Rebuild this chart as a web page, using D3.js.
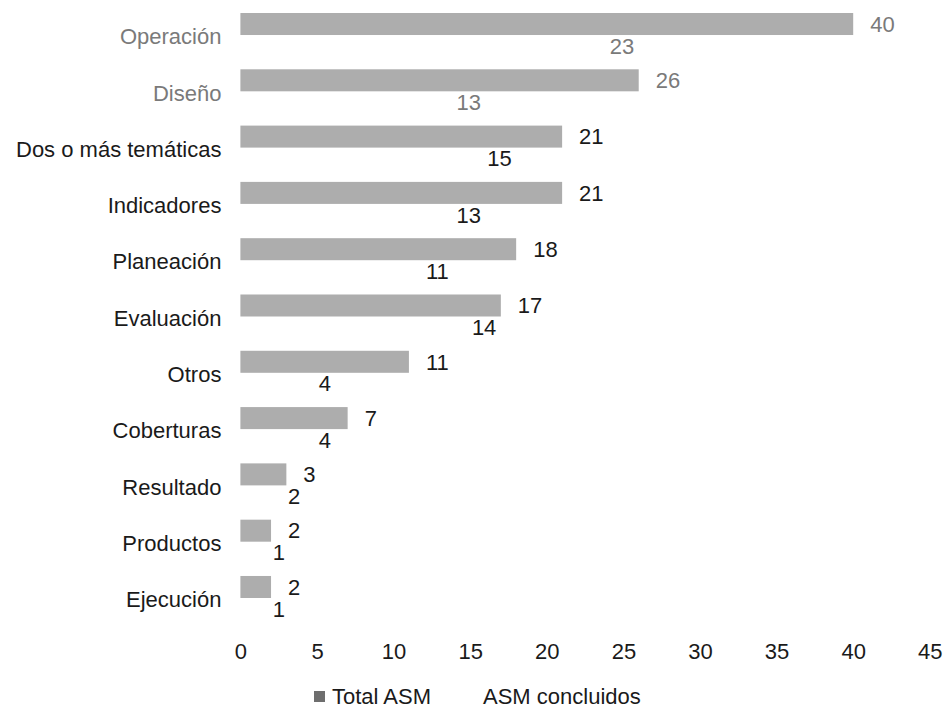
<!DOCTYPE html>
<html>
<head>
<meta charset="utf-8">
<script src="https://cdn.jsdelivr.net/npm/d3@7"></script>
<style>
  html, body { margin: 0; padding: 0; background: #fff; }
  svg { display: block; font-family: "Liberation Sans", Arial, sans-serif; }
</style>
</head>
<body>
<svg id="chart" width="945" height="711"></svg>
<script>
const categories = ["Operación", "Diseño", "Dos o más temáticas", "Indicadores", "Planeación",
  "Evaluación", "Otros", "Coberturas", "Resultado", "Productos", "Ejecución"];
const totalASM = [40, 26, 21, 21, 18, 17, 11, 7, 3, 2, 2];
const concluidos = [23, 13, 15, 13, 11, 14, 4, 4, 2, 1, 1];
const seriesNames = ["Total ASM", "ASM concluidos"];
const xTicks = [0, 5, 10, 15, 20, 25, 30, 35, 40, 45];

const svg = d3.select("#chart");
const W = 945, H = 711;
svg.append("rect").attr("width", W).attr("height", H).attr("fill", "#fff");

const x = d3.scaleLinear().domain([0, 45]).range([240.4, 929.8]);
const y = d3.scaleBand().domain(categories).range([0, 633])
  .paddingInner(0.218).paddingOuter(0.231);
const sub = d3.scaleBand().domain(seriesNames).range([0, y.bandwidth()]).padding(0);
const fills = {"Total ASM": "#adadad", "ASM concluidos": "none"};

const rows = categories.map((c, i) => ({cat: c, i, vals: [
  {s: "Total ASM", v: totalASM[i]}, {s: "ASM concluidos", v: concluidos[i]}]}));

const textColor = i => i < 2 ? "#7a7a7a" : "#1a1a1a";

const g = svg.append("g");
const grp = g.selectAll("g.cat").data(rows).join("g")
  .attr("class", "cat")
  .attr("transform", d => `translate(0,${y(d.cat)})`);

grp.selectAll("rect").data(d => d.vals.map(v => ({...v, i: d.i}))).join("rect")
  .attr("x", x(0))
  .attr("y", d => sub(d.s))
  .attr("width", d => x(d.v) - x(0))
  .attr("height", sub.bandwidth())
  .attr("fill", d => fills[d.s]);

grp.selectAll("text").data(d => d.vals.map(v => ({...v, i: d.i}))).join("text")
  .attr("x", d => x(d.v) + 17)
  .attr("y", d => sub(d.s) + sub.bandwidth() / 2)
  .attr("dy", "0.35em")
  .attr("font-size", 22)
  .attr("fill", d => textColor(d.i))
  .text(d => d.v);

// y axis (category labels)
const yAxis = svg.append("g").attr("transform", `translate(${x(0)},0)`)
  .call(d3.axisLeft(y).tickSize(0).tickPadding(19));
yAxis.select(".domain").remove();
yAxis.selectAll("text")
  .attr("font-size", 22)
  .attr("font-family", "Liberation Sans, Arial, sans-serif")
  .attr("dy", "0.42em")
  .attr("fill", (d, i) => textColor(i));

// x axis
const xAxis = svg.append("g").attr("transform", "translate(0,633)")
  .call(d3.axisBottom(x).tickValues(xTicks).tickSize(0).tickPadding(10).tickFormat(d3.format("d")));
xAxis.select(".domain").remove();
xAxis.selectAll("text")
  .attr("font-size", 22)
  .attr("font-family", "Liberation Sans, Arial, sans-serif")
  .attr("fill", "#1a1a1a");

// legend
const legendX = [314, 465];
const legendTextX = [332, 483];
const leg = svg.append("g");
seriesNames.forEach((s, i) => {
  leg.append("rect").attr("x", legendX[i]).attr("y", 691).attr("width", 11).attr("height", 11)
    .attr("fill", i === 0 ? "#6e6e6e" : "none");
  leg.append("text").attr("x", legendTextX[i]).attr("y", 704)
    .attr("font-size", 22).attr("fill", "#1a1a1a").text(s);
});
</script>
</body>
</html>
